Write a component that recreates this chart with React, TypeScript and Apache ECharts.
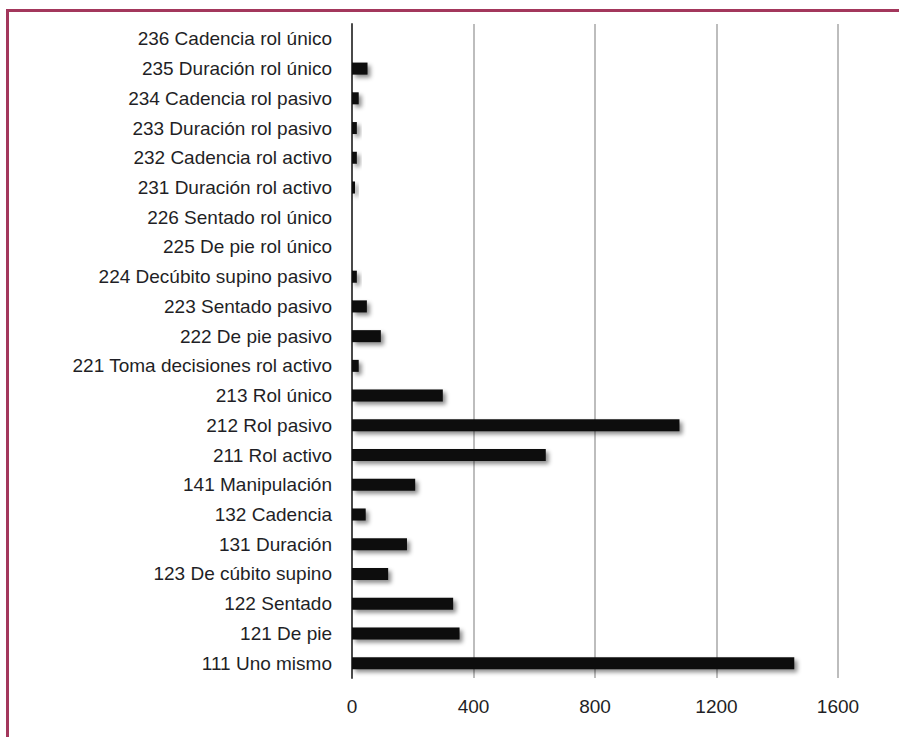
import React, { useEffect, useRef } from "react";
import * as echarts from "echarts";

const categories = [
  "111 Uno mismo",
  "121 De pie",
  "122 Sentado",
  "123 De cúbito supino",
  "131 Duración",
  "132 Cadencia",
  "141 Manipulación",
  "211 Rol activo",
  "212 Rol pasivo",
  "213 Rol único",
  "221 Toma decisiones rol activo",
  "222 De pie pasivo",
  "223 Sentado pasivo",
  "224 Decúbito supino pasivo",
  "225 De pie rol único",
  "226 Sentado rol único",
  "231 Duración rol activo",
  "232 Cadencia rol activo",
  "233 Duración rol pasivo",
  "234 Cadencia rol pasivo",
  "235 Duración rol único",
  "236 Cadencia rol único",
];

const values = [
  1456, 354, 333, 119, 181, 45, 208, 638, 1078, 299, 22, 95, 49, 16, 0, 0, 10,
  16, 16, 22, 51, 0,
];

const xTicks = [0, 400, 800, 1200, 1600];

const FONT = '"Liberation Sans Narrow", "Arial Narrow", "Liberation Sans", sans-serif';

export default function App() {
  const ref = useRef<HTMLDivElement>(null);
  useEffect(() => {
    document.body.style.margin = "0";
    const chart = echarts.init(ref.current!, undefined, { renderer: "svg" });
    chart.setOption({
      animation: false,
      backgroundColor: "#ffffff",
      grid: { left: 352, right: 61, top: 24, bottom: 59 },
      xAxis: {
        type: "value",
        min: xTicks[0],
        max: xTicks[xTicks.length - 1],
        interval: xTicks[1] - xTicks[0],
        axisLine: { show: false },
        axisTick: { show: false },
        splitLine: { show: true, lineStyle: { color: "#bdbdbd", width: 2 } },
        axisLabel: {
          margin: 19,
          fontFamily: FONT,
          fontSize: 19,
          color: "#1f1f26",
          formatter: (v: number) => String(v),
        },
      },
      yAxis: {
        type: "category",
        data: categories,
        axisLine: { show: true, lineStyle: { color: "#4a4a4a", width: 2 } },
        axisTick: { show: false },
        splitLine: { show: false },
        axisLabel: {
          margin: 20,
          fontFamily: FONT,
          fontSize: 19,
          color: "#1f1f26",
          interval: 0,
        },
      },
      series: [
        {
          type: "bar",
          data: values,
          barWidth: 12,
          itemStyle: {
            color: "#0a0a0a",
            shadowColor: "rgba(0,0,0,0.45)",
            shadowBlur: 4,
            shadowOffsetX: 3,
            shadowOffsetY: 3,
          },
        },
      ],
      graphic: [
        {
          type: "line",
          shape: { x1: 6, y1: 10.5, x2: 899, y2: 10.5 },
          style: { stroke: "#a3375c", lineWidth: 3 },
          z: 100,
        },
        {
          type: "line",
          shape: { x1: 7.5, y1: 9, x2: 7.5, y2: 737 },
          style: { stroke: "#a3375c", lineWidth: 3 },
          z: 100,
        },
      ],
    });
    return () => chart.dispose();
  }, []);
  return <div ref={ref} style={{ width: 899, height: 737 }} />;
}
